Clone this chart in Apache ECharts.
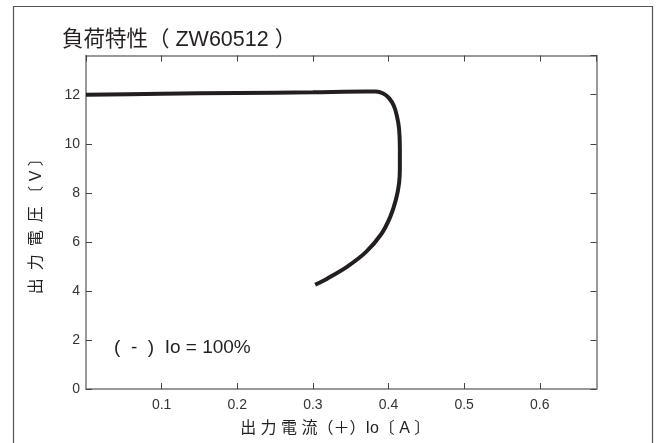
<!DOCTYPE html>
<html>
<head>
<meta charset="utf-8">
<script src="https://cdn.jsdelivr.net/npm/echarts@6/dist/echarts.min.js"></script>
<style>
  html, body { margin: 0; padding: 0; background: #fff; }
  #chart { width: 660px; height: 443px; }
</style>
</head>
<body>
<div id="chart"></div>
<script>
// 負荷特性 ZW60512: 出力電流 [A] vs 出力電圧 [V]
const currentA = [0.000, 0.100, 0.200, 0.300, 0.370, 0.383, 0.393, 0.401, 0.407, 0.411, 0.414,
    0.415, 0.415, 0.414, 0.410, 0.402, 0.390, 0.370, 0.345, 0.320, 0.303]
const voltageV = [12.00, 12.04, 12.07, 12.10, 12.13, 12.13, 12.05, 11.85, 11.55, 11.15, 10.60,
    9.80, 9.00, 8.40, 7.75, 7.00, 6.30, 5.58, 4.98, 4.52, 4.25]
const xTickLabels = [0.1, 0.2, 0.3, 0.4, 0.5, 0.6]
const yTickLabels = [0, 2, 4, 6, 8, 10, 12]

const FONT = '"Liberation Sans", "Noto Sans CJK JP", sans-serif'
const INK = '#231f20'
const AXIS = '#777'

let seriesData = []
for (let i = 0; i < currentA.length; i++) {
    seriesData.push([currentA[i], voltageV[i]])
}

function fmt(list) {
    return v => {
        let hit = list.find(t => Math.abs(t - v) < 1e-6)
        return hit === undefined ? '' : String(hit)
    }
}

const baseX = {
    type: 'value',
    min: 0,
    max: 0.675,
    interval: 0.1,
    splitLine: { show: false },
    axisLine: { show: true, onZero: false, lineStyle: { color: AXIS, width: 1.5 } },
    axisTick: { show: true, inside: true, length: 6, lineStyle: { color: '#444', width: 1 } },
}
const baseY = {
    type: 'value',
    min: 0,
    max: 13.6,
    interval: 2,
    splitLine: { show: false },
    axisLine: { show: true, onZero: false, lineStyle: { color: AXIS, width: 1.5 } },
    axisTick: { show: true, inside: true, length: 6, lineStyle: { color: '#444', width: 1 } },
}

const chart = echarts.init(document.getElementById('chart'))
chart.setOption({
    animation: false,
    backgroundColor: '#fff',
    textStyle: { fontFamily: FONT },
    title: {
        text: '負荷特性（ ZW60512 ）',
        left: 57,
        top: 24,
        textStyle: { fontFamily: FONT, fontSize: 21.5, fontWeight: 'normal', color: INK },
    },
    grid: { left: 86, right: 63.5, top: 55.5, bottom: 54 },
    graphic: [{
        type: 'rect',
        shape: { x: 13.5, y: 6.5, width: 639, height: 500 },
        style: { fill: 'none', stroke: '#555', lineWidth: 1.2 },
        silent: true,
    }, {
        type: 'text',
        left: 114,
        top: 338,
        style: { text: '(  -  )  Io = 100%', font: '19px ' + FONT, fill: INK },
    }],
    xAxis: [Object.assign({}, baseX, {
        position: 'bottom',
        name: '出 力 電 流（＋）Io〔 A 〕',
        nameLocation: 'middle',
        nameGap: 32,
        nameTextStyle: { fontFamily: FONT, fontSize: 16, color: INK, padding: [0, 12, 0, 0] },
        axisLabel: {
            margin: 9, fontSize: 14, color: '#333', fontFamily: FONT,
            showMinLabel: false, showMaxLabel: false, formatter: fmt(xTickLabels),
        },
    }), Object.assign({}, baseX, {
        position: 'top',
        axisLabel: { show: false },
    })],
    yAxis: [Object.assign({}, baseY, {
        position: 'left',
        name: '出\u2002力\u2002電\u2002圧 〔 V 〕',
        nameLocation: 'middle',
        nameGap: 41,
        nameRotate: 90,
        nameTextStyle: { fontFamily: FONT, fontSize: 16, color: INK },
        axisLabel: {
            margin: 6, fontSize: 14, color: '#333', fontFamily: FONT,
            showMaxLabel: false, formatter: fmt(yTickLabels),
        },
    }), Object.assign({}, baseY, {
        position: 'right',
        axisLabel: { show: false },
    })],
    series: [{
        type: 'line',
        data: seriesData,
        smooth: 0.3,
        showSymbol: false,
        lineStyle: { color: INK, width: 4 },
        clip: true,
    }],
})
</script>
</body>
</html>
